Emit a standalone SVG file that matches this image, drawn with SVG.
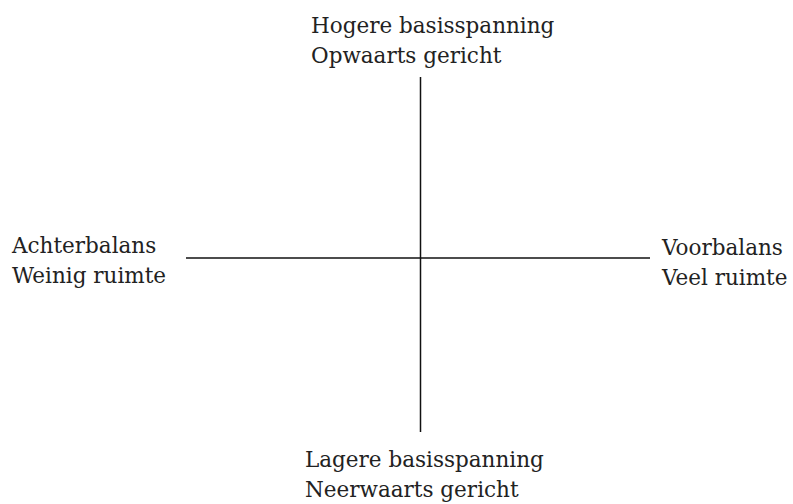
<svg xmlns="http://www.w3.org/2000/svg" width="793" height="504" viewBox="0 0 793 504">
<style>
text{font-family:"DejaVu Serif","Liberation Serif",serif;font-size:21.5px;fill:#222}
.ax{stroke:#111;stroke-width:1.5;fill:none}
</style>
<rect width="793" height="504" fill="#fff"/>
<g id="connectors">
<line class="ax" x1="420.5" y1="77" x2="420.5" y2="432"/>
<line class="ax" x1="186" y1="258" x2="650" y2="258"/>
</g>
<g id="top"><text x="311" y="33">Hogere basisspanning</text><text x="311" y="63">Opwaarts gericht</text></g>
<g id="left"><text x="12" y="253">Achterbalans</text><text x="12" y="283">Weinig ruimte</text></g>
<g id="right"><text x="662" y="255">Voorbalans</text><text x="662" y="285">Veel ruimte</text></g>
<g id="bottom"><text x="305" y="467">Lagere basisspanning</text><text x="305" y="497">Neerwaarts gericht</text></g>
</svg>
